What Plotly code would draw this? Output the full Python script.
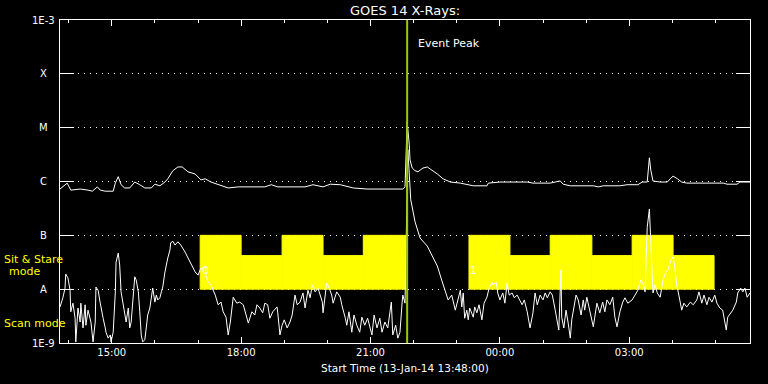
import math
import pandas as pd
import plotly.graph_objects as go

START = pd.Timestamp("2014-01-13 13:48:00")
END = pd.Timestamp("2014-01-14 05:48:00")
EVENT_PEAK = pd.Timestamp("2014-01-13 21:51:00")

# GOES 14 long channel (1-8 A): minutes after start, log10 flux (W/m^2)
long_min = [0, 10, 15, 28, 39, 45, 52, 56, 63, 74,
            77, 81, 85, 90, 97, 104, 111, 118, 127, 132,
            139, 146, 150, 157, 164, 170, 178, 188, 196, 202,
            210, 224, 234, 248, 285, 294, 303, 341, 352, 366,
            376, 390, 408, 427, 477, 480, 483, 486, 487, 490,
            494, 498, 505, 511, 518, 525, 533, 543, 557, 566,
            575, 594, 596, 612, 650, 658, 682, 696, 700, 710,
            742, 749, 756, 779, 789, 804, 810, 817, 820, 822,
            825, 835, 845, 849, 853, 859, 865, 872, 923, 928,
            942, 946, 960]
long_log = [-6.14, -6.03, -6.16, -6.14, -6.16, -6.18, -6.10, -6.16, -6.18, -6.18,
            -6.03, -5.91, -6.06, -6.12, -6.12, -6.01, -6.06, -6.12, -6.12, -6.05,
            -6.08, -6.01, -5.95, -5.80, -5.73, -5.73, -5.82, -5.86, -5.97, -5.95,
            -6.01, -6.08, -6.12, -6.10, -6.10, -6.06, -6.10, -6.10, -6.06, -6.10,
            -6.05, -6.06, -6.12, -6.14, -6.14, -6.10, -4.89, -5.32, -5.60, -5.75,
            -5.80, -5.82, -5.75, -5.73, -5.79, -5.86, -5.95, -6.01, -6.03, -6.05,
            -6.08, -6.08, -6.03, -6.01, -6.01, -6.03, -6.03, -5.99, -6.05, -6.08,
            -6.08, -6.10, -6.08, -6.08, -6.06, -6.06, -6.01, -6.01, -5.56, -5.79,
            -5.99, -6.01, -6.01, -5.95, -5.90, -5.95, -6.01, -6.03, -6.03, -6.05,
            -6.05, -6.01, -6.01]

# GOES 14 short channel (0.5-4 A): minutes after start, log10 flux (W/m^2)
short_min = [0, 4, 7, 8, 11, 14, 15, 18, 21, 22,
             25, 28, 29, 32, 35, 36, 39, 42, 43, 46,
             49, 50, 53, 56, 57, 60, 63, 64, 67, 70,
             71, 74, 77, 78, 81, 83, 85, 88, 90, 92,
             95, 97, 99, 102, 104, 106, 109, 111, 113, 115,
             118, 120, 122, 125, 127, 129, 132, 134, 136, 139,
             141, 143, 146, 147, 150, 153, 154, 157, 160, 164,
             168, 174, 178, 182, 188, 192, 196, 202, 203, 206,
             210, 216, 220, 224, 227, 231, 234, 237, 239, 241,
             246, 250, 255, 260, 262, 267, 271, 274, 278, 282,
             285, 289, 292, 296, 302, 303, 306, 309, 312, 316,
             320, 323, 327, 330, 334, 338, 341, 345, 348, 351,
             355, 359, 365, 366, 369, 371, 374, 378, 380, 385,
             390, 392, 397, 399, 402, 406, 409, 413, 417, 420,
             424, 428, 434, 437, 441, 445, 448, 452, 456, 461,
             463, 467, 470, 473, 476, 477, 480, 481, 484, 486,
             488, 494, 501, 511, 519, 525, 531, 536, 540, 545,
             550, 557, 559, 561, 563, 566, 568, 570, 575, 577,
             580, 583, 587, 590, 594, 597, 601, 602, 607, 609,
             612, 616, 619, 622, 625, 629, 632, 636, 639, 643,
             646, 650, 654, 658, 661, 664, 668, 672, 675, 678,
             682, 685, 689, 691, 694, 697, 698, 701, 704, 707,
             710, 712, 715, 718, 721, 725, 728, 730, 733, 737,
             742, 744, 747, 751, 755, 758, 761, 765, 769, 772,
             775, 779, 783, 786, 790, 796, 800, 804, 808, 811,
             814, 817, 820, 821, 824, 825, 828, 831, 835, 839,
             843, 846, 850, 853, 855, 858, 861, 865, 868, 872,
             877, 881, 886, 889, 893, 896, 900, 903, 907, 911,
             914, 918, 922, 927, 929, 934, 936, 941, 943, 947,
             950, 953, 956, 960]
short_log = [-8.33, -8.16, -7.98, -7.72, -7.79, -8.02, -8.42, -8.26, -8.54, -8.98,
             -8.35, -8.61, -8.26, -8.72, -8.29, -8.67, -8.39, -8.52, -8.61, -8.98,
             -8.61, -7.96, -8.02, -8.26, -8.35, -8.54, -8.72, -8.80, -8.91, -8.85,
             -8.98, -8.80, -8.05, -7.50, -7.33, -7.55, -8.05, -8.29, -8.48, -8.61,
             -8.35, -8.72, -8.61, -8.05, -7.77, -7.83, -8.05, -8.42, -8.85, -8.98,
             -8.94, -8.72, -8.48, -8.35, -8.16, -7.98, -8.24, -8.11, -8.20, -8.16,
             -8.05, -7.96, -7.68, -7.61, -7.42, -7.27, -7.14, -7.11, -7.18, -7.12,
             -7.18, -7.31, -7.42, -7.50, -7.68, -7.74, -7.61, -7.59, -7.74, -7.87,
             -7.92, -8.11, -8.29, -8.24, -8.42, -8.52, -8.85, -8.61, -8.35, -8.15,
             -8.26, -8.24, -8.29, -8.54, -8.63, -8.42, -8.48, -8.29, -8.35, -8.44,
             -8.26, -8.29, -8.54, -8.42, -8.33, -8.44, -8.85, -8.67, -8.57, -8.72,
             -8.61, -8.48, -8.11, -8.29, -8.24, -8.07, -8.35, -8.02, -8.16, -7.92,
             -8.05, -7.98, -8.24, -8.44, -8.11, -7.89, -7.96, -8.11, -8.26, -8.05,
             -8.15, -8.29, -8.54, -8.67, -8.42, -8.80, -8.48, -8.67, -8.80, -8.52,
             -8.67, -8.54, -8.85, -8.48, -8.72, -8.54, -8.80, -8.61, -8.72, -8.24,
             -8.85, -8.67, -8.91, -8.80, -8.24, -8.11, -8.26, -7.64, -5.41, -5.88,
             -6.34, -6.75, -7.05, -7.20, -7.42, -7.57, -7.83, -8.02, -8.20, -8.11,
             -8.39, -8.02, -8.33, -8.07, -8.54, -8.39, -8.57, -8.35, -8.52, -8.33,
             -8.44, -8.29, -8.57, -8.26, -8.15, -7.98, -7.87, -7.92, -7.87, -8.07,
             -8.20, -8.07, -8.26, -7.89, -8.11, -8.07, -8.16, -8.11, -8.20, -8.29,
             -8.20, -8.42, -8.72, -8.44, -8.07, -8.29, -8.11, -8.20, -8.07, -8.16,
             -8.05, -8.11, -8.39, -8.57, -8.76, -7.64, -8.52, -8.72, -8.39, -8.63,
             -8.91, -8.57, -8.33, -8.11, -8.20, -8.48, -8.20, -8.39, -8.15, -8.42,
             -8.70, -8.52, -8.26, -8.44, -8.24, -8.42, -8.20, -8.29, -8.15, -8.52,
             -8.70, -8.42, -8.24, -8.16, -8.26, -8.20, -8.11, -8.02, -7.83, -7.89,
             -8.05, -6.85, -6.51, -6.90, -7.96, -8.07, -7.92, -8.07, -8.15, -7.83,
             -7.68, -7.64, -7.46, -7.40, -7.55, -7.92, -8.11, -8.39, -8.26, -8.33,
             -8.24, -8.29, -8.20, -8.05, -8.26, -8.11, -8.29, -8.15, -8.24, -8.11,
             -8.26, -8.35, -8.39, -8.76, -8.52, -8.42, -8.39, -8.24, -8.07, -7.98,
             -8.05, -7.98, -8.15, -8.07]

# Sit & Stare mode intervals (minutes after start) and block top flux
mode_start_min = [195, 252, 309, 366, 422, 569, 626, 682, 740, 796, 853]
mode_end_min = [252, 309, 366, 422, 481, 626, 682, 740, 796, 853, 910]
mode_top = [1e-7, 4.2e-8, 1e-7, 4.2e-8, 1e-7, 1e-7, 4.2e-8, 1e-7, 4.2e-8, 1e-7, 4.2e-8]
mode_bottom = 1e-8

# y-axis tick labels (GOES classes)
ytick_vals = [1e-9, 1e-8, 1e-7, 1e-6, 1e-5, 1e-4, 1e-3]
ytick_text = ["1E-9", "A", "B", "C", "M", "X", "1E-3"]

# flag labels drawn on the plot
flag_text = ["0", "1"]
flag_min = [203, 575]
flag_log = [-7.66, -7.66]

FONT = "DejaVu Sans"
YELLOW = "#ffff00"
GREEN = "#99cc00"


def to_time(mins):
    return [START + pd.Timedelta(minutes=m) for m in mins]


fig = go.Figure()

for s, e, top in zip(mode_start_min, mode_end_min, mode_top):
    t0, t1 = to_time([s, e])
    fig.add_trace(go.Scatter(
        x=[t0, t0, t1, t1, t0], y=[mode_bottom, top, top, mode_bottom, mode_bottom],
        mode="lines", fill="toself", fillcolor=YELLOW,
        line=dict(color=YELLOW, width=1), hoverinfo="skip", showlegend=False))

fig.add_trace(go.Scatter(
    x=to_time(long_min), y=[10 ** v for v in long_log], mode="lines",
    line=dict(color="white", width=1), showlegend=False, name="1-8 A"))
fig.add_trace(go.Scatter(
    x=to_time(short_min), y=[10 ** v for v in short_log], mode="lines",
    line=dict(color="white", width=1), showlegend=False, name="0.5-4 A"))

fig.add_shape(type="line", xref="x", yref="paper", x0=EVENT_PEAK, x1=EVENT_PEAK,
              y0=0, y1=1, line=dict(color=GREEN, width=2), layer="above")

annotations = []
annotations.append(dict(text="Event Peak", xref="x", yref="paper", x=EVENT_PEAK,
                        y=(343 - 43) / 323, xanchor="left", yanchor="middle", xshift=9,
                        showarrow=False, font=dict(color="white", size=11, family=FONT)))
for v, t in zip(ytick_vals, ytick_text):
    lv = math.log10(v)
    if t.startswith("1E"):
        annotations.append(dict(text=t, xref="paper", yref="y", x=0, y=lv,
                                xanchor="right", yanchor="middle", xshift=-3,
                                showarrow=False,
                                font=dict(color="white", size=10, family=FONT)))
    else:
        annotations.append(dict(text=t, xref="paper", yref="y", x=0, y=lv,
                                xanchor="center", yanchor="middle", xshift=-17,
                                showarrow=False,
                                font=dict(color="white", size=10, family=FONT)))
for t, m, lv in zip(flag_text, flag_min, flag_log):
    annotations.append(dict(text=t, xref="x", yref="y", x=to_time([m])[0], y=lv,
                            showarrow=False, xanchor="center", yanchor="middle",
                            font=dict(color="white", size=11, family=FONT)))
annotations += [
    dict(text="Sit & Stare", xref="paper", yref="paper", x=0, y=(343 - 259) / 323,
         xanchor="left", yanchor="middle", xshift=-58, showarrow=False,
         font=dict(color=YELLOW, size=11, family=FONT)),
    dict(text="mode", xref="paper", yref="paper", x=0, y=(343 - 271) / 323,
         xanchor="center", yanchor="middle", xshift=-36, showarrow=False,
         font=dict(color=YELLOW, size=11, family=FONT)),
    dict(text="Scan mode", xref="paper", yref="paper", x=0, y=(343 - 323) / 323,
         xanchor="left", yanchor="middle", xshift=-58, showarrow=False,
         font=dict(color=YELLOW, size=11, family=FONT)),
    dict(text="Start Time (13-Jan-14 13:48:00)", xref="paper", yref="paper",
         x=0.5, y=-(368 - 343) / 323, xanchor="center", yanchor="middle",
         showarrow=False, font=dict(color="white", size=10.5, family=FONT)),
]

fig.update_layout(
    width=768, height=384,
    margin=dict(l=60, r=18, t=20, b=41),
    paper_bgcolor="black", plot_bgcolor="black",
    font=dict(family=FONT, color="white", size=10),
    title=dict(text="GOES 14 X-Rays:", x=0.5, xref="paper", y=1 - 10 / 384,
               yref="container", xanchor="center", yanchor="middle",
               font=dict(color="white", size=13, family=FONT)),
    annotations=annotations,
    showlegend=False,
)

fig.update_xaxes(
    type="date", range=[START, END],
    showgrid=False, zeroline=False,
    showline=True, linecolor="white", linewidth=1, mirror="allticks",
    ticks="inside", ticklen=6, tickwidth=1, tickcolor="white",
    tick0="2014-01-13 00:00:00", dtick=3 * 3600 * 1000, tickformat="%H:%M",
    tickfont=dict(color="white", size=10, family=FONT),
    minor=dict(ticks="inside", ticklen=3, tickwidth=1, tickcolor="white",
               dtick=3600 * 1000, tick0="2014-01-13 00:00:00", showgrid=False),
)
fig.update_yaxes(
    type="log", range=[-9, -3],
    tickvals=ytick_vals, showticklabels=False,
    showgrid=True, gridcolor="white", gridwidth=1, griddash="1px,5px",
    zeroline=False,
    showline=True, linecolor="white", linewidth=1, mirror="allticks",
    ticks="inside", ticklen=14, tickwidth=1, tickcolor="white",
)

fig.write_html(
    "out.html",
    config={"displayModeBar": False},
    post_script="document.body.style.margin='0';document.body.style.background='black';",
)
